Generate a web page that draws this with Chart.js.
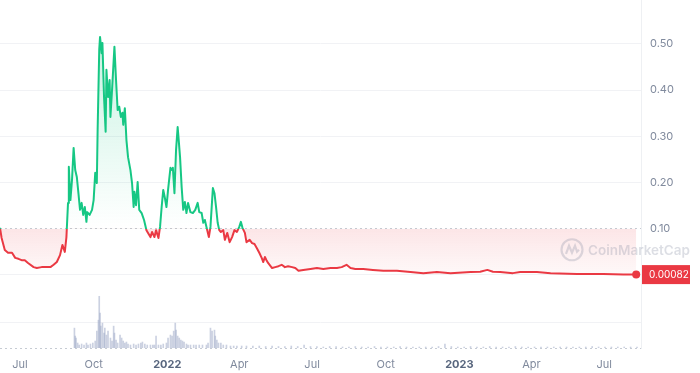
<!DOCTYPE html>
<html>
<head>
<meta charset="utf-8">
<script src="https://cdn.jsdelivr.net/npm/chart.js@4.4.1/dist/chart.umd.min.js"></script>
<style>
  body { margin: 0; background: #fff; }
  #wrap { width: 700px; height: 373px; position: relative; }
</style>
</head>
<body>
<div id="wrap"><canvas id="grafico"></canvas></div>
<script>
// days counted from 6 Jun 2021
const tickDays = [25, 117, 209, 299, 390, 482, 574, 664, 755];
const tickLabels = ['Jul', 'Oct', '2022', 'Apr', 'Jul', 'Oct', '2023', 'Apr', 'Jul'];
const yTicks = [-0.158, -0.102, 0, 0.1, 0.2, 0.3, 0.4, 0.5];
const baseline = 0.1;

const priceDays = [0,2,6,10,15,19,23,27,31,35,42,46,52,58,63,67,71,75,78,81,83,85,86,88,90,92,94,96,98,100,
  102,104,106,108,109,112,115,117,119,121,122,124,125,127,128,130,132,133,135,137,138,140,143,145,147,149,151,153,154,156,
  158,160,163,165,167,168,170,172,174,177,180,183,185,188,190,193,195,198,200,202,204,206,208,210,213,215,216,218,220,222,
  223,225,227,229,231,233,235,238,241,244,247,249,252,254,256,258,261,263,266,268,270,272,274,276,279,281,284,287,290,293,
  296,299,301,303,306,308,312,315,318,321,324,327,329,331,333,335,340,344,348,352,356,360,365,369,373,379,388,396,404,413,
  421,427,433,438,444,454,466,479,496,513,529,546,563,588,600,609,616,625,641,650,671,688,721,754,779,795];
const prices = [0.102,0.080,0.054,0.048,0.048,0.037,0.035,0.032,0.032,0.026,0.017,0.015,0.017,0.017,0.017,0.022,0.028,0.043,0.065,0.050,
  0.082,0.156,0.234,0.162,0.206,0.275,0.227,0.212,0.177,0.141,0.156,0.130,0.147,0.115,0.136,0.130,0.141,0.162,0.221,0.199,
  0.314,0.487,0.515,0.480,0.502,0.385,0.310,0.444,0.385,0.422,0.342,0.400,0.494,0.422,0.357,0.364,0.342,0.351,0.325,0.361,
  0.292,0.255,0.227,0.199,0.147,0.180,0.151,0.201,0.141,0.134,0.119,0.097,0.091,0.082,0.093,0.082,0.097,0.080,0.104,0.147,
  0.184,0.167,0.147,0.184,0.232,0.227,0.232,0.177,0.271,0.320,0.299,0.255,0.190,0.141,0.158,0.134,0.156,0.136,0.134,0.141,
  0.156,0.136,0.134,0.113,0.119,0.104,0.082,0.104,0.188,0.177,0.147,0.113,0.097,0.093,0.097,0.076,0.091,0.071,0.082,0.097,
  0.093,0.104,0.115,0.102,0.091,0.071,0.076,0.069,0.067,0.058,0.048,0.037,0.028,0.039,0.032,0.026,0.015,0.017,0.019,0.022,
  0.017,0.019,0.017,0.015,0.009,0.011,0.013,0.015,0.013,0.015,0.015,0.017,0.022,0.015,0.013,0.013,0.011,0.009,0.009,0.0065,
  0.004,0.0065,0.004,0.0065,0.007,0.011,0.007,0.0065,0.004,0.0065,0.0065,0.004,0.002,0.002,0.001,0.00082];

const volumeDays = [93,94,95,97,99,102,105,108,110,113,116,119,121,123,124,125,126,128,130,131,
  133,135,138,140,142,143,145,147,150,152,154,156,158,160,163,167,170,173,176,178,
  181,184,188,191,193,195,198,201,204,208,210,213,215,217,219,220,222,224,226,228,
  230,233,235,238,242,245,249,253,258,260,263,265,268,269,271,273,276,279,283,288,
  292,296,302,308,316,324,332,340,348,356,364,372,380,388,396,404,412,420,428,436,
  444,452,460,468,476,484,492,500,508,516,524,532,540,548,556,564,572,580,588,596,
  604,612,620,628,636,644,652,660,668,676,684,692,700,708,716,724,732,740,748,756,
  764,772,780,788,796];
const volumes = [20,12,10,5,3,4,3,5,3,4,5,7,17,28,52,35,22,25,15,20,
  13,17,10,7,22,15,8,5,13,10,7,5,6,4,3,4,3,4,5,6,
  4,3,3,3,3,12,3,3,4,5,10,13,12,17,25,18,12,10,8,7,
  6,4,3,3,3,3,3,3,3,5,20,17,18,12,8,5,5,3,3,2,
  2,2,2,2,2,2,1.5,2,1.5,1.5,2,1.5,3,1.5,1.5,1,1.5,1.5,1,1,
  1.5,1,1,1.5,1,1,1,1.5,1,1,1,1,1,1.5,4,1.5,1,1,1.5,1,
  1,1.5,1,1,1,1.5,1,1,1,1,1,1,1,1,1,1,1,1.5,1,1,
  1,1,1,1,1];

const verde = '#16c784';
const vermelho = '#ea3943';
const cinza = '#808a9d';
const ultimo = prices.length - 1;

const corLinha = (c) => {
  const chart = c.chart;
  const area = chart.chartArea;
  if (!area) return verde;
  const yb = chart.scales.y.getPixelForValue(baseline);
  const f = (yb - area.top) / (area.bottom - area.top);
  const g = chart.ctx.createLinearGradient(0, area.top, 0, area.bottom);
  g.addColorStop(0, verde);
  g.addColorStop(f, verde);
  g.addColorStop(f, vermelho);
  g.addColorStop(1, vermelho);
  return g;
};

const corFundo = (c) => {
  const chart = c.chart;
  const area = chart.chartArea;
  if (!area) return 'transparent';
  const h = area.bottom - area.top;
  const fb = (chart.scales.y.getPixelForValue(baseline) - area.top) / h;
  const fz = (chart.scales.y.getPixelForValue(0) - area.top) / h;
  const g = chart.ctx.createLinearGradient(0, area.top, 0, area.bottom);
  g.addColorStop(0, 'rgba(22,199,132,0.28)');
  g.addColorStop(fb - 0.002, 'rgba(22,199,132,0.0)');
  g.addColorStop(fb, 'rgba(234,57,67,0.13)');
  g.addColorStop(fz, 'rgba(234,57,67,0.03)');
  g.addColorStop(1, 'rgba(234,57,67,0.0)');
  return g;
};

const ehLinhaPontilhada = (v) => Math.abs(v - baseline) < 1e-9 || Math.abs(v - yTicks[0]) < 1e-9;
const ehAno = (c) => !!c.tick && /^\d{4}$/.test(tickLabels[tickDays.indexOf(c.tick.value)] || '');

const extras = {
  id: 'extras',
  afterDraw(chart) {
    const { ctx, chartArea, scales } = chart;
    // marca d'agua
    ctx.save();
    const cx = chartArea.right - 69, cy = scales.y.getPixelForValue(baseline) + 21;
    ctx.strokeStyle = 'rgba(128,138,157,0.28)';
    ctx.lineWidth = 2.2;
    ctx.beginPath();
    ctx.arc(cx, cy, 10.5, 0, Math.PI * 2);
    ctx.stroke();
    ctx.beginPath();
    ctx.moveTo(cx - 6, cy + 4);
    ctx.lineTo(cx - 3, cy - 4);
    ctx.lineTo(cx, cy + 3);
    ctx.lineTo(cx + 3, cy - 4);
    ctx.lineTo(cx + 5, cy + 2);
    ctx.lineTo(cx + 7, cy);
    ctx.stroke();
    ctx.fillStyle = 'rgba(128,138,157,0.28)';
    ctx.font = '600 13.5px Inter';
    ctx.textBaseline = 'middle';
    ctx.textAlign = 'left';
    ctx.fillText('CoinMarketCap', cx + 16, cy + 1);
    // preco atual
    const y = scales.y.getPixelForValue(prices[ultimo]);
    ctx.fillStyle = vermelho;
    ctx.fillRect(chartArea.right + 1, y - 9.5, 48, 19);
    ctx.fillStyle = '#fff';
    ctx.font = '10px Inter';
    ctx.fillText(String(prices[ultimo]), chartArea.right + 8, y + 0.5);
    ctx.restore();
  }
};

const ctx = document.getElementById('grafico');

let grafico = new Chart(ctx, {
  data: {
    datasets: [{
      type: 'line',
      label: 'Preço',
      data: priceDays.map((d, i) => ({ x: d, y: prices[i] })),
      yAxisID: 'y',
      borderColor: corLinha,
      backgroundColor: corFundo,
      fill: { value: baseline },
      borderWidth: 2,
      borderJoinStyle: 'round',
      tension: 0,
      pointRadius: (c) => c.dataIndex === ultimo ? 4 : 0,
      pointBackgroundColor: vermelho,
      pointBorderWidth: 0,
      order: 1
    }, {
      type: 'bar',
      label: 'Volume',
      data: volumeDays.map((d, i) => ({ x: d, y: volumes[i] })),
      yAxisID: 'y2',
      backgroundColor: 'rgba(160,172,200,0.55)',
      barThickness: 1,
      order: 2
    }]
  },
  options: {
    responsive: true,
    maintainAspectRatio: false,
    animation: false,
    layout: { padding: 0, autoPadding: false },
    plugins: { legend: { display: false }, tooltip: { enabled: false } },
    scales: {
      x: {
        type: 'linear',
        min: 0,
        max: 801,
        offset: false,
        grid: { display: false, offset: false },
        border: { display: false },
        afterBuildTicks: (s) => { s.ticks = tickDays.map(v => ({ value: v })); },
        afterFit: (s) => { s.height = 25; s.paddingLeft = 0; s.paddingRight = 0; },
        ticks: {
          autoSkip: false,
          maxRotation: 0,
          padding: 2,
          callback: (v) => tickLabels[tickDays.indexOf(v)],
          color: (c) => ehAno(c) ? '#58667e' : cinza,
          font: (c) => ({ family: 'Inter', size: 11, weight: ehAno(c) ? '700' : '400' })
        }
      },
      y: {
        position: 'right',
        min: yTicks[0],
        max: 0.595,
        afterBuildTicks: (s) => { s.ticks = yTicks.map(v => ({ value: v })); },
        afterFit: (s) => { s.width = 59; s.paddingTop = 0; s.paddingBottom = 0; },
        grid: {
          drawTicks: false,
          color: (c) => (c.tick && ehLinhaPontilhada(c.tick.value)) ? '#c6cbd3' : '#f1f2f5'
        },
        border: {
          display: true,
          color: '#eef0f3',
          dash: (c) => (c.tick && ehLinhaPontilhada(c.tick.value)) ? [2, 3] : []
        },
        ticks: {
          padding: 9,
          color: cinza,
          font: { family: 'Inter', size: 11 },
          callback: (v) => v >= 0.099 ? v.toFixed(2) : ''
        }
      },
      y2: {
        display: false,
        min: 0,
        max: 350
      }
    }
  },
  plugins: [extras]
});
</script>
</body>
</html>
